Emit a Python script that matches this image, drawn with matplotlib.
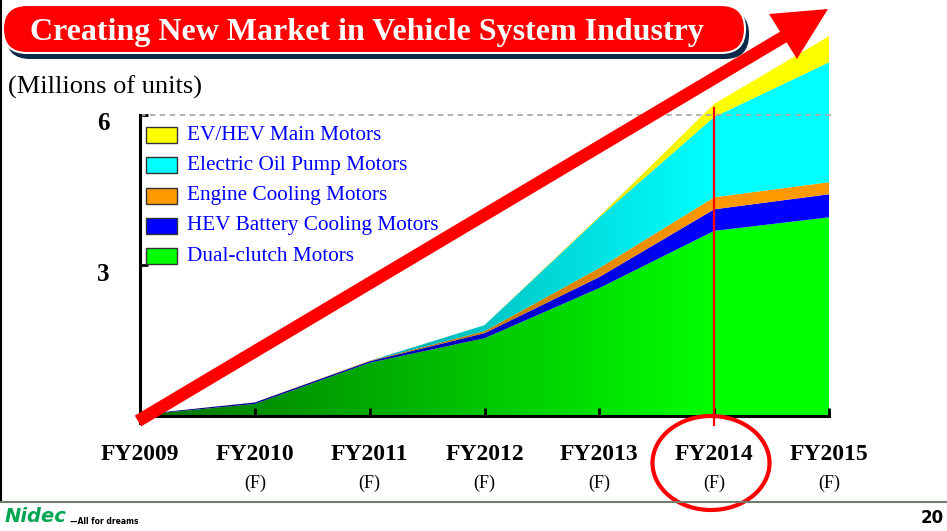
import matplotlib
matplotlib.use('Agg')
import matplotlib.pyplot as plt
import matplotlib.patches as mpatches
import numpy as np

plt.rcParams['font.family'] = ['Liberation Serif', 'DejaVu Serif']

# values (millions of units)
years = ['FY2009', 'FY2010', 'FY2011', 'FY2012', 'FY2013', 'FY2014', 'FY2015']
forecast = ['', '(F)', '(F)', '(F)', '(F)', '(F)', '(F)']
dual_clutch = [0.02, 0.24, 1.06, 1.55, 2.55, 3.69, 3.96]
hev_battery = [0.01, 0.03, 0.03, 0.10, 0.22, 0.43, 0.46]
engine_cooling = [0.0, 0.0, 0.01, 0.04, 0.18, 0.24, 0.24]
oil_pump = [0.0, 0.0, 0.0, 0.12, 1.01, 1.60, 2.39]
ev_main = [0.0, 0.0, 0.0, 0.0, 0.02, 0.26, 0.52]

series = [dual_clutch, hev_battery, engine_cooling, oil_pump, ev_main]
names = ['Dual-clutch Motors', 'HEV Battery Cooling Motors', 'Engine Cooling Motors',
         'Electric Oil Pump Motors', 'EV/HEV Main Motors']
colors = [(0, 1, 0), (0, 0, 1), (1, 0.6, 0), (0, 1, 1), (1, 1, 0)]

W, H = 947, 531
fig = plt.figure(figsize=(W / 100, H / 100), dpi=100)
ax = fig.add_axes([140 / W, 115 / H, 689 / W, 416 / H])
ymax = 416 / 50.17
x = np.arange(len(years))

# stacked areas, each filled with a left-to-right brightening gradient
gx = np.linspace(0, 6, 600)
fac = 0.45 + 0.55 * np.clip(gx / 5, 0, 1)
base = np.zeros(len(years))
for vals, c in zip(series, colors):
    top = base + np.array(vals)
    poly = ax.fill_between(x, base, top, color='none', lw=0)
    img = np.ones((2, len(gx), 3))
    for k in range(3):
        img[:, :, k] = c[k] * fac
    im = ax.imshow(img, extent=[0, 6, 0, ymax], aspect='auto', origin='lower',
                   interpolation='bilinear', zorder=1)
    im.set_clip_path(poly.get_paths()[0], transform=ax.transData)
    base = top

ax.set_xlim(0, 6)
ax.set_ylim(0, ymax)
ax.patch.set_alpha(0)
for s in ['top', 'right']:
    ax.spines[s].set_visible(False)
ax.spines['left'].set_bounds(-0.14, 6)
ax.spines['left'].set_linewidth(2.2)
ax.spines['bottom'].set_linewidth(2.2)
ax.spines['left'].set_zorder(3)
ax.spines['bottom'].set_zorder(3)
ax.set_yticks([0, 3, 6])
ax.set_yticklabels([])
ax.set_xticks(x)
ax.set_xticklabels([])
ax.tick_params(direction='in', length=6, width=2)

for yv in [3, 6]:
    ax.text(-0.0537, yv - 0.17, str(yv), transform=ax.get_yaxis_transform(),
            ha='center', va='center', fontsize=18, fontweight='bold')
for i, (yr, f) in enumerate(zip(years, forecast)):
    ax.text(i, -0.092, yr, transform=ax.get_xaxis_transform(), ha='center',
            va='center', fontsize=17, fontweight='bold', clip_on=False)
    ax.text(i, -0.161, f, transform=ax.get_xaxis_transform(), ha='center',
            va='center', fontsize=13, clip_on=False)

# dashed reference at 6 and marker line at FY2014
ax.plot([0, 6.05], [6, 6], color='#aaaaaa', lw=1.3, ls=(0, (3, 2.5)),
        clip_on=False, zorder=2)
ax.plot([5, 5], [-0.18, 6.14], color='red', lw=1.6, clip_on=False, zorder=4)

# overlay in pixel coordinates for slide decorations
ov = fig.add_axes([0, 0, 1, 1], zorder=5)
ov.set_xlim(0, W)
ov.set_ylim(H, 0)
ov.axis('off')
ov.patch.set_alpha(0)

# title pill
ov.add_patch(mpatches.FancyBboxPatch((6, 10), 743, 49,
             boxstyle='round,pad=0,rounding_size=24', fc='#0b2a4a', ec='none'))
ov.add_patch(mpatches.FancyBboxPatch((3, 5), 742, 48,
             boxstyle='round,pad=0,rounding_size=24', fc='red', ec='white', lw=1.5))
ov.text(30, 40, 'Creating New Market in Vehicle System Industry', color='white',
        fontsize=23, fontweight='bold', ha='left', va='baseline')
ov.text(8, 87, '(Millions of units)', fontsize=19, ha='left', va='center')

# legend
for i, (n, c) in enumerate(zip(names[::-1], colors[::-1])):
    yc = 135 + i * 30.3
    ov.add_patch(mpatches.Rectangle((146, yc - 8), 31, 16, fc=c, ec='#333333', lw=1))
    ov.text(187, yc, n, color='#0000ff', fontsize=15.3, ha='left', va='center')

# growth arrow
ov.plot([138, 785], [421, 36], color='red', lw=9, solid_capstyle='butt')
ov.add_patch(mpatches.Polygon([(769, 14), (828, 9), (797, 59)], closed=True,
             fc='red', ec='none'))

# circle around FY2014
ov.add_patch(mpatches.Ellipse((711, 463), 117, 94, fill=False, ec='red', lw=3))

# slide frame and footer
ov.plot([1, 1], [0, 500], color='black', lw=1.5)
ov.plot([0, W], [502, 502], color='#6f7f6f', lw=1.5)
ov.text(5, 516, 'Nidec', color='#00a651', fontsize=14, fontweight='heavy',
        fontstyle='italic', family='DejaVu Sans', ha='left', va='center')
ov.text(70, 522, '\u2014All for dreams', fontsize=5.5, fontweight='bold',
        family='DejaVu Sans', ha='left', va='center')
ov.text(944, 518, '20', fontsize=12, fontweight='bold', family='DejaVu Sans',
        ha='right', va='center')

fig.savefig('out.png', dpi=100)
